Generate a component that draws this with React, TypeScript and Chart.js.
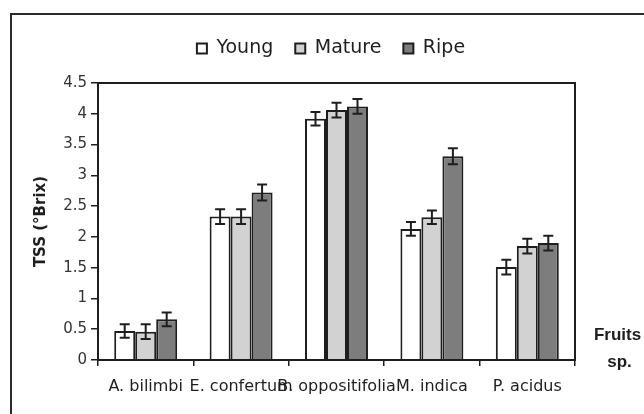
import React, { useEffect, useRef } from 'react';
import { Chart, registerables } from 'chart.js';

Chart.register(...registerables);

const categories = ['A. bilimbi', 'E. confertum', 'B. oppositifolia', 'M. indica', 'P. acidus'];
const seriesNames = ['Young', 'Mature', 'Ripe'];
const youngValues = [0.47, 2.33, 3.92, 2.13, 1.51];
const matureValues = [0.46, 2.33, 4.06, 2.32, 1.85];
const ripeValues = [0.66, 2.72, 4.12, 3.31, 1.9];
const youngErrors = [0.11, 0.12, 0.11, 0.11, 0.12];
const matureErrors = [0.12, 0.12, 0.12, 0.11, 0.12];
const ripeErrors = [0.11, 0.13, 0.12, 0.13, 0.12];
const yMin = 0;
const yMax = 4.5;
const yStep = 0.5;
const yTitle = 'TSS (°Brix)';
const xTitleLines = ['Fruits', 'sp.'];

const INK = '#1e1e1e';

const errorBarPlugin = {
  id: 'errorBars',
  afterDatasetsDraw(chart: any) {
    const ctx = chart.ctx;
    const y = chart.scales.y;
    chart.data.datasets.forEach((ds: any, i: number) => {
      const meta = chart.getDatasetMeta(i);
      meta.data.forEach((bar: any, j: number) => {
        const v = ds.data[j];
        const e = ds.errors[j];
        const top = y.getPixelForValue(v + e);
        const bot = y.getPixelForValue(v - e);
        ctx.save();
        ctx.strokeStyle = INK;
        ctx.lineWidth = 2;
        ctx.beginPath();
        ctx.moveTo(bar.x, top);
        ctx.lineTo(bar.x, bot);
        ctx.moveTo(bar.x - 5, top);
        ctx.lineTo(bar.x + 5, top);
        ctx.moveTo(bar.x - 5, bot);
        ctx.lineTo(bar.x + 5, bot);
        ctx.stroke();
        ctx.restore();
      });
    });
  },
};

const framePlugin = {
  id: 'frame',
  beforeDraw(chart: any) {
    const ctx = chart.ctx;
    ctx.save();
    ctx.fillStyle = '#ffffff';
    ctx.fillRect(0, 0, chart.width, chart.height);
    ctx.strokeStyle = '#2a2a2a';
    ctx.lineWidth = 2;
    ctx.beginPath();
    ctx.moveTo(11, chart.height);
    ctx.lineTo(11, 14);
    ctx.lineTo(chart.width, 14);
    ctx.stroke();
    ctx.restore();
  },
  afterDraw(chart: any) {
    const { ctx, chartArea } = chart;
    ctx.save();
    ctx.strokeStyle = INK;
    ctx.lineWidth = 2;
    ctx.strokeRect(chartArea.left, chartArea.top, chartArea.right - chartArea.left, chartArea.bottom - chartArea.top);
    ctx.fillStyle = INK;
    ctx.font = 'bold 17px "Liberation Sans"';
    ctx.textAlign = 'center';
    ctx.textBaseline = 'middle';
    const cx = (chartArea.right + chart.width) / 2 + 8;
    ctx.fillText(xTitleLines[0], cx, chartArea.bottom - 25);
    ctx.fillText(xTitleLines[1], cx + 2, chartArea.bottom + 2);
    ctx.restore();
  },
};

export default function App() {
  const ref = useRef<HTMLCanvasElement | null>(null);

  useEffect(() => {
    if (!ref.current) return;
    Chart.defaults.font.family = '"DejaVu Sans", sans-serif';
    const chart = new Chart(ref.current, {
      type: 'bar',
      data: {
        labels: categories,
        datasets: [
          {
            label: seriesNames[0],
            data: youngValues,
            errors: youngErrors,
            backgroundColor: '#ffffff',
            borderColor: INK,
            borderWidth: 2,
          } as any,
          {
            label: seriesNames[1],
            data: matureValues,
            errors: matureErrors,
            backgroundColor: '#d2d2d2',
            borderColor: INK,
            borderWidth: 2,
          } as any,
          {
            label: seriesNames[2],
            data: ripeValues,
            errors: ripeErrors,
            backgroundColor: '#7d7d7d',
            borderColor: INK,
            borderWidth: 2,
          } as any,
        ],
      },
      options: {
        responsive: false,
        animation: false,
        layout: { padding: { left: 18, top: 17, right: 0, bottom: 0 } },
        datasets: {
          bar: { categoryPercentage: 0.66, barPercentage: 1.0 },
        },
        plugins: {
          legend: {
            position: 'top',
            labels: {
              boxWidth: 10,
              boxHeight: 10,
              padding: 22,
              color: INK,
              font: { size: 19 },
            },
          },
          tooltip: { enabled: false },
        },
        scales: {
          x: {
            type: 'category',
            grid: { display: true, drawOnChartArea: false, tickLength: 6, color: INK, lineWidth: 1.5, offset: true },
            border: { display: true, color: INK, width: 2 },
            ticks: { color: INK, font: { size: 16 }, autoSkip: false, maxRotation: 0, minRotation: 0, padding: 11 },
            afterFit(s: any) {
              s.height = 54;
            },
          },
          y: {
            type: 'linear',
            min: yMin,
            max: yMax,
            ticks: {
              stepSize: yStep,
              color: '#333',
              font: { size: 15 },
              padding: 4,
              callback: (v: any) => String(Math.round(Number(v) * 10) / 10),
            },
            grid: { display: true, drawOnChartArea: false, tickLength: 7, color: INK, lineWidth: 1.5 },
            border: { display: true, color: INK, width: 2 },
            title: {
              display: true,
              text: yTitle,
              color: INK,
              font: { size: 15, weight: 'bold' },
              padding: { top: 14, bottom: 0 },
            },
            afterFit(s: any) {
              s.width = 80;
            },
          },
          xTop: {
            type: 'linear',
            position: 'top',
            display: true,
            grid: { display: false },
            border: { display: false },
            ticks: { display: false },
            afterFit(s: any) {
              s.height = 15;
            },
          },
          yRight: {
            type: 'linear',
            position: 'right',
            display: true,
            grid: { display: false },
            border: { display: false },
            ticks: { display: false },
            afterFit(s: any) {
              s.width = 69;
            },
          },
        },
      } as any,
      plugins: [framePlugin, errorBarPlugin],
    });
    return () => chart.destroy();
  }, []);

  return (
    <div style={{ position: 'fixed', left: 0, top: 0, width: 644, height: 414 }}>
      <canvas ref={ref} width={644} height={414} style={{ display: 'block' }} />
    </div>
  );
}
